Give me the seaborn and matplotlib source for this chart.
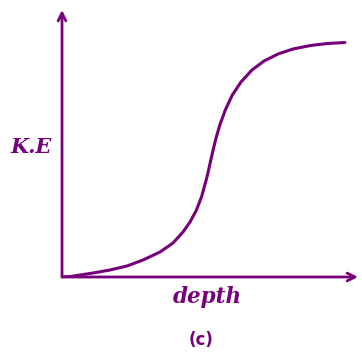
import pandas as pd
import seaborn as sns
import matplotlib.pyplot as plt

# curve (depth, kinetic energy), arbitrary units
depth = [0, 8, 15, 31, 48, 65, 81, 98, 111, 121, 128, 134, 139.5, 145, 149.5,
         153.5, 157.8, 163.3, 170.3, 179, 190, 202, 216, 231, 248.5, 265.5, 283]
ke = [0, 0.4, 1.5, 4, 7, 11, 17, 25, 34, 45, 55, 66, 80, 100, 120,
      137, 152, 167, 182, 195, 207, 216, 223, 228, 231.5, 233.5, 234.5]

x_max = 296
y_max = 267
purple = "#75007a"

df = pd.DataFrame({"depth": depth, "ke": ke})

sns.set_style("white")
fig = plt.figure(figsize=(3.62, 3.58), dpi=100)
ax = fig.add_axes([62 / 362, 81 / 358, 296 / 362, 267 / 358])

sns.lineplot(data=df, x="depth", y="ke", ax=ax, color=purple, linewidth=2.2,
             solid_joinstyle="round", solid_capstyle="round")

ax.set_xlim(0, x_max)
ax.set_ylim(0, y_max)
for s in ax.spines.values():
    s.set_visible(False)
ax.set_xticks([])
ax.set_yticks([])
ax.set_xlabel("")
ax.set_ylabel("")

# axes with arrowheads
arrow = dict(arrowstyle="->", color=purple, lw=2.0, mutation_scale=14,
             shrinkA=0, shrinkB=0)
ax.annotate("", xy=(x_max, 0), xytext=(0, 0), arrowprops=arrow, annotation_clip=False)
ax.annotate("", xy=(0, y_max), xytext=(0, 0), arrowprops=arrow, annotation_clip=False)

fig.text(31 / 362, 1 - 147 / 358, "K.E", ha="center", va="center", color=purple,
         fontsize=15, fontweight="bold", fontstyle="italic", family="DejaVu Serif")
fig.text(207 / 362, 1 - 297 / 358, "depth", ha="center", va="center", color=purple,
         fontsize=15.5, fontweight="bold", fontstyle="italic", family="DejaVu Serif")
fig.text(201 / 362, 1 - 340 / 358, "(c)", ha="center", va="center", color=purple,
         fontsize=12, fontweight="bold", family="DejaVu Sans")

fig.savefig("out.png", dpi=100)
